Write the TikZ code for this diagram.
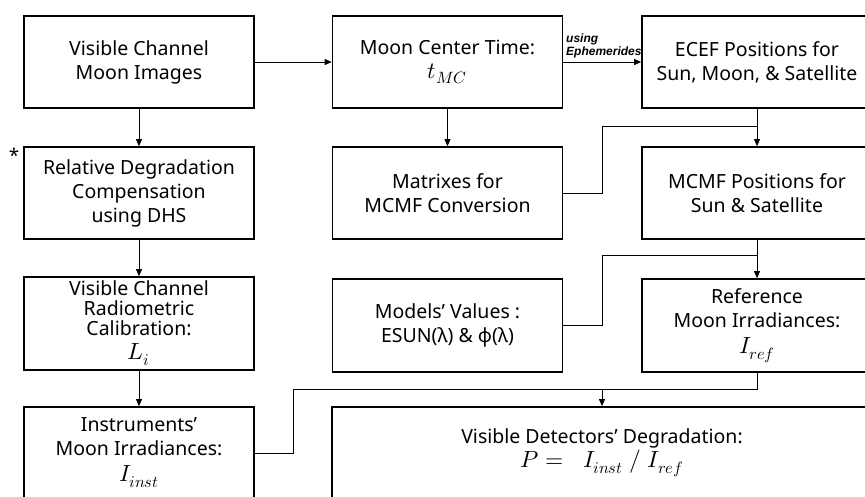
\documentclass[tikz,border=0pt]{standalone}
\usepackage{fontspec}
\usepackage{unicode-math}
\setmainfont{Noto Sans}
\setmathfont{Latin Modern Math}[Scale=1.2]
\newfontfamily\ephfont{Liberation Sans}
\usetikzlibrary{arrows.meta,calc}
\begin{document}
\begin{tikzpicture}[x=1pt,y=-1pt,
  box/.style={draw,line width=1.7pt,minimum width=230pt,minimum height=92pt,inner sep=0pt,align=center,font=\fontsize{19.5}{24}\selectfont},
  conn/.style={line width=0.8pt},
  arr/.style={conn,-{Triangle[length=7pt,width=6pt]}}]
\useasboundingbox (0,0) rectangle (865,496);
\clip (0,0) rectangle (865,496);
\fill[white] (0,0) rectangle (865,496);
% left column
\node[box] (b1) at (139,62) {Visible Channel\\Moon Images};
\node[box] (b2) at (139,193) {Relative Degradation\\Compensation\\using DHS};
\node[box,minimum height=93pt,font=\fontsize{19.5}{20}\selectfont] (b3) at (139,323.5) {Visible Channel\\Radiometric\\Calibration:\\[4pt]$L_i$};
\node[box] (b4) at (139,453) {Instruments’\\Moon Irradiances:\\[2pt]$I_{inst}$};
\node[font=\fontsize{19}{20}\selectfont] (star) at (14,155) {*};
% middle column
\node[box] (mc) at (447.5,62) {Moon Center Time:\\$t_{MC}$};
\node[box] (mat) at (447.5,193) {Matrixes for\\MCMF Conversion};
\node[box,minimum height=93pt] (mod) at (447.5,325.5) {Models’ Values :\\ESUN(λ) \& φ(λ)};
% right column
\node[box] (ecef) at (757,62) {ECEF Positions for\\Sun, Moon, \& Satellite};
\node[box] (mcmf) at (757,193) {MCMF Positions for\\Sun \& Satellite};
\node[box,minimum height=93pt] (ref) at (757,325.5) {Reference\\Moon Irradiances:\\[2pt]$I_{ref}$};
% bottom big box
\node[box,minimum width=540pt] (big) at (602,453) {Visible Detectors’ Degradation:\\$P =\;\; I_{inst}\;/\;I_{ref}$};
% connectors
\draw[arr] (b1.east) -- (mc.west);
\draw[arr] (mc.east) -- (ecef.west);
\node[anchor=south west,inner sep=0pt,align=left,font=\ephfont\fontsize{12}{12.5}\selectfont\itshape\bfseries] (eph) at (566,58) {using\\Ephemerides};
\draw[arr] (b1.south) -- (b2.north);
\draw[arr] (b2.south) -- (b3.north);
\draw[arr] (b3.south) -- (b4.north);
\draw[arr] (mc.south) -- (mat.north);
\draw[arr] (ecef.south) -- (mcmf.north);
\draw[arr] (mcmf.south) -- (ref.north);
\coordinate (k1) at (602,126);
\coordinate (j1) at (757,126);
\draw[conn] (mat.east) -| (k1) -- (j1);
\coordinate (k2) at (602,255);
\coordinate (j2) at (757,255);
\draw[conn] (mod.east) -| (k2) -- (j2);
\coordinate (k3) at (602,389);
\coordinate (k4) at (293,389);
\draw[conn] (ref.south) |- (k3);
\draw[conn] (b4.east) -| (k4) -- (k3);
\draw[arr] (k3) -- (big.north);
\end{tikzpicture}
\end{document}
